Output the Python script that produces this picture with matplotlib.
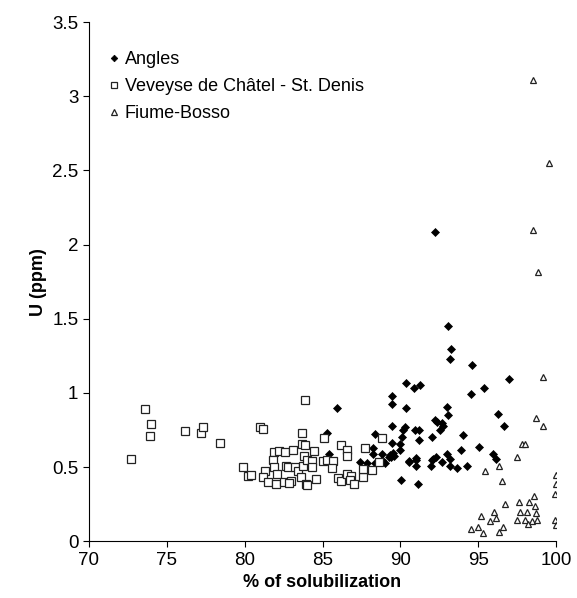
import matplotlib
matplotlib.use("Agg")
import matplotlib.pyplot as plt

plt.rcParams["font.family"] = ["Liberation Sans", "DejaVu Sans"]

# Angles (filled diamonds)
angles_x = [92.22, 93.08, 93.27, 93.20, 94.60, 96.97, 90.36, 90.87, 91.26, 95.35,
            94.50, 89.46, 89.46, 85.95, 90.34, 93.00, 93.08, 96.26, 96.67, 89.48,
            92.20, 92.33, 92.65, 92.70, 92.54, 90.28, 90.19, 90.96, 91.20, 91.20,
            90.08, 92.00, 94.00, 85.26, 88.35, 88.26, 89.44, 89.97, 90.00, 85.40,
            88.26, 88.80, 89.30, 89.50, 89.60, 89.40, 89.25, 87.40, 87.84, 88.37,
            88.80, 89.00, 90.57, 91.00, 91.00, 93.90, 95.07, 95.97, 96.14, 91.00,
            92.10, 92.00, 92.26, 92.97, 93.18, 90.55, 91.98, 92.67, 93.20, 93.65,
            94.26, 90.06, 91.10]
angles_y = [2.086, 1.448, 1.297, 1.229, 1.187, 1.097, 1.065, 1.036, 1.056, 1.034,
            0.991, 0.976, 0.922, 0.897, 0.901, 0.908, 0.854, 0.856, 0.780, 0.775,
            0.814, 0.804, 0.798, 0.780, 0.753, 0.769, 0.751, 0.748, 0.748, 0.683,
            0.703, 0.701, 0.717, 0.730, 0.724, 0.629, 0.659, 0.652, 0.618, 0.591,
            0.587, 0.587, 0.583, 0.595, 0.575, 0.565, 0.570, 0.533, 0.524, 0.528,
            0.546, 0.524, 0.541, 0.546, 0.506, 0.618, 0.636, 0.591, 0.555, 0.560,
            0.555, 0.546, 0.571, 0.589, 0.551, 0.537, 0.508, 0.537, 0.504, 0.492,
            0.508, 0.411, 0.384]

# Veveyse de Châtel - St. Denis (open squares)
veveyse_x = [72.7, 73.6, 74.0, 73.9, 76.2, 77.2, 77.3, 78.4, 83.9, 81.0,
             81.15, 83.66, 85.1, 87.7, 88.8, 86.2, 86.6, 86.6, 81.9, 82.2,
             82.6, 83.1, 83.66, 83.9, 84.45, 81.8, 79.9, 80.2, 80.4, 81.3,
             81.2, 81.9, 82.1, 81.5, 82.0, 82.5, 83.0, 82.85, 82.65, 82.8,
             83.2, 83.4, 83.6, 83.75, 83.8, 84.0, 84.3, 84.3, 83.94, 83.98,
             84.6, 85.0, 85.26, 85.7, 85.6, 86.0, 86.16, 86.6, 86.8, 86.76,
             87.0, 87.6, 87.6, 88.2, 88.6]
veveyse_y = [0.553, 0.890, 0.787, 0.708, 0.744, 0.730, 0.773, 0.665, 0.955, 0.767,
             0.757, 0.728, 0.699, 0.627, 0.697, 0.650, 0.614, 0.573, 0.602, 0.609,
             0.602, 0.614, 0.652, 0.650, 0.609, 0.546, 0.497, 0.440, 0.447, 0.472,
             0.434, 0.501, 0.456, 0.398, 0.384, 0.400, 0.407, 0.393, 0.504, 0.501,
             0.499, 0.470, 0.434, 0.510, 0.573, 0.546, 0.541, 0.497, 0.384, 0.378,
             0.418, 0.541, 0.546, 0.541, 0.492, 0.427, 0.407, 0.456, 0.440, 0.411,
             0.384, 0.430, 0.485, 0.479, 0.535]

# Fiume-Bosso (open triangles)
fiume_x = [98.5, 99.56, 98.5, 98.8, 99.14, 98.73, 99.14, 97.8, 97.97, 97.5,
           96.33, 95.4, 96.5, 99.97, 99.97, 99.9, 96.72, 97.62, 98.26, 98.56,
           98.66, 97.7, 98.15, 98.7, 96.0, 95.2, 96.14, 95.75, 97.5, 98.0,
           98.45, 98.2, 98.75, 99.9, 99.97, 94.5, 94.96, 95.33, 96.57, 96.33]
fiume_y = [3.113, 2.547, 2.097, 1.812, 1.108, 0.829, 0.780, 0.654, 0.654, 0.569,
           0.508, 0.470, 0.407, 0.447, 0.384, 0.315, 0.254, 0.261, 0.263, 0.306,
           0.236, 0.200, 0.194, 0.187, 0.198, 0.167, 0.155, 0.133, 0.146, 0.142,
           0.137, 0.115, 0.142, 0.142, 0.110, 0.083, 0.096, 0.056, 0.099, 0.065]

fig = plt.figure(figsize=(5.77, 5.98), dpi=100)
ax = fig.add_axes([0.154, 0.095, 0.81, 0.868])

ax.plot(angles_x, angles_y, "D", ms=4.2, color="black", mec="black", mew=0.5,
        linestyle="none", label="Angles")
ax.plot(veveyse_x, veveyse_y, "s", ms=5.5, mfc="white", mec="#222222", mew=0.9,
        linestyle="none", label="Veveyse de Châtel - St. Denis")
ax.plot(fiume_x, fiume_y, "^", ms=5, mfc="white", mec="#222222", mew=0.9,
        linestyle="none", label="Fiume-Bosso")

ax.set_xlim(70, 100)
ax.set_ylim(0, 3.5)
ax.set_xticks([70, 75, 80, 85, 90, 95, 100])
ax.set_yticks([0, 0.5, 1, 1.5, 2, 2.5, 3, 3.5])
ax.set_yticklabels(["0", "0.5", "1", "1.5", "2", "2.5", "3", "3.5"])
ax.spines["top"].set_visible(False)
ax.spines["right"].set_visible(False)
ax.tick_params(direction="out", length=4, labelsize=13.5)

ax.set_xlabel("% of solubilization", fontsize=13, fontweight="bold")
ax.set_ylabel("U (ppm)", fontsize=13, fontweight="bold")

ax.legend(loc="upper left", bbox_to_anchor=(0.0, 0.975), frameon=False,
          fontsize=13, handletextpad=0.1, handlelength=1.0, labelspacing=0.55,
          markerscale=0.8)

fig.savefig("out.png", dpi=100)
